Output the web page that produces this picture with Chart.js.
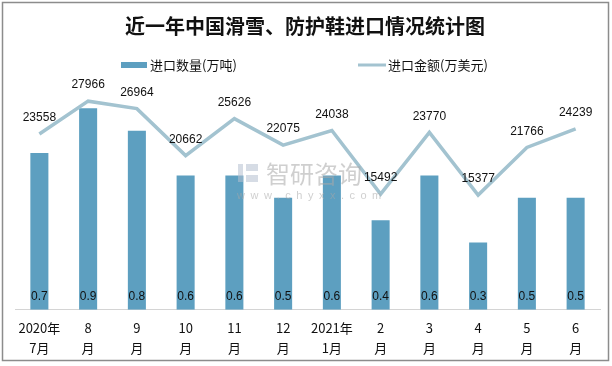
<!DOCTYPE html>
<html>
<head>
<meta charset="utf-8">
<script src="https://cdn.jsdelivr.net/npm/chart.js@4/dist/chart.umd.min.js"></script>
<style>
  body { margin: 0; background: #fff; }
  #wrap { width: 612px; height: 366px; }
</style>
</head>
<body>
<div id="wrap"><canvas id="myChart" width="612" height="366"></canvas></div>
<script>
/* data */
const months = [
  ["2020年", "7月"], ["8", "月"], ["9", "月"], ["10", "月"], ["11", "月"], ["12", "月"],
  ["2021年", "1月"], ["2", "月"], ["3", "月"], ["4", "月"], ["5", "月"], ["6", "月"]
];
const quantity = [0.7, 0.9, 0.8, 0.6, 0.6, 0.5, 0.6, 0.4, 0.6, 0.3, 0.5, 0.5];
const amount = [23558, 27966, 26964, 20662, 25626, 22075, 24038, 15492, 23770, 15377, 21766, 24239];

const titleText = "近一年中国滑雪、防护鞋进口情况统计图";
const barName = "进口数量(万吨)";
const lineName = "进口金额(万美元)";

const barColor = "#5d9fc0";
const lineColor = "#a3c3d0";
const txtFont = '"Liberation Sans", "Noto Sans CJK SC", sans-serif';
const cjkFont = '"Noto Sans CJK SC", "Liberation Sans", sans-serif';

/* border, title, legend, value labels and watermark */
const decor = {
  id: "decor",
  beforeDraw(chart) {
    const ctx = chart.ctx;
    ctx.save();
    ctx.fillStyle = "#fff";
    ctx.fillRect(0, 0, chart.width, chart.height);
    ctx.strokeStyle = "#8c8c8c";
    ctx.lineWidth = 1.5;
    ctx.strokeRect(2.5, 2.5, 606, 358);

    ctx.fillStyle = "#111";
    ctx.font = 'bold 20px "Noto Sans CJK SC", sans-serif';
    ctx.textAlign = "center";
    ctx.textBaseline = "middle";
    ctx.fillText(titleText, 305, 26);

    // legend
    ctx.fillStyle = barColor;
    ctx.fillRect(121, 62, 26, 6);
    ctx.strokeStyle = lineColor;
    ctx.lineWidth = 3;
    ctx.beginPath();
    ctx.moveTo(358, 65);
    ctx.lineTo(386, 65);
    ctx.stroke();
    ctx.fillStyle = "#111";
    ctx.font = "13px " + cjkFont;
    ctx.textAlign = "left";
    ctx.fillText(barName, 150, 65);
    ctx.fillText(lineName, 388, 65);
    ctx.restore();
  },
  afterDatasetsDraw(chart) {
    const ctx = chart.ctx;
    ctx.save();
    ctx.fillStyle = "#111";
    ctx.font = "12px " + txtFont;
    ctx.textAlign = "center";
    ctx.textBaseline = "middle";
    const bars = chart.getDatasetMeta(0).data;
    bars.forEach((b, i) => {
      ctx.fillText(quantity[i].toFixed(1), b.x, chart.chartArea.bottom - 13);
    });
    const pts = chart.getDatasetMeta(1).data;
    pts.forEach((p, i) => {
      ctx.fillText(String(amount[i]), p.x, p.y - 16);
    });

    // watermark
    ctx.globalAlpha = 0.55;
    ctx.fillStyle = "#b4c0d0";
    ctx.fillRect(238, 164, 5, 18);
    ctx.fillRect(246, 164, 12, 7);
    ctx.fillRect(246, 175, 12, 7);
    ctx.fillStyle = "#a8a8a8";
    ctx.font = "24px " + cjkFont;
    ctx.textAlign = "left";
    ctx.fillText("智研咨询", 266, 174);
    ctx.font = "11px " + txtFont;
    ctx.letterSpacing = "5.5px";
    ctx.fillText("www.chyxx.com", 237, 196);
    ctx.restore();
  }
};

const data = {
  labels: months,
  datasets: [
    {
      type: "bar",
      label: barName,
      data: quantity,
      backgroundColor: barColor,
      yAxisID: "y",
      barPercentage: 0.37,
      categoryPercentage: 1,
      order: 2
    },
    {
      type: "line",
      label: lineName,
      data: amount,
      borderColor: lineColor,
      borderWidth: 3.5,
      pointRadius: 0,
      tension: 0,
      yAxisID: "y1",
      order: 1
    }
  ]
};

const config = {
  data: data,
  options: {
    responsive: false,
    animation: false,
    layout: { padding: { top: 86, left: 15, right: 12, bottom: 8 } },
    plugins: {
      legend: { display: false },
      title: { display: false },
      tooltip: { enabled: false }
    },
    scales: {
      x: {
        grid: { display: false },
        border: { display: true, color: "#d4d4d4", width: 1 },
        ticks: {
          color: "#111",
          font: { size: 13, family: cjkFont, lineHeight: 1.55 },
          padding: 0,
          maxRotation: 0,
          autoSkip: false
        }
      },
      y: { display: false, min: 0, max: 1.0 },
      y1: { display: false, min: 0, max: 30000 }
    }
  },
  plugins: [decor]
};

const myChart = new Chart(document.getElementById("myChart"), config);
</script>
</body>
</html>
